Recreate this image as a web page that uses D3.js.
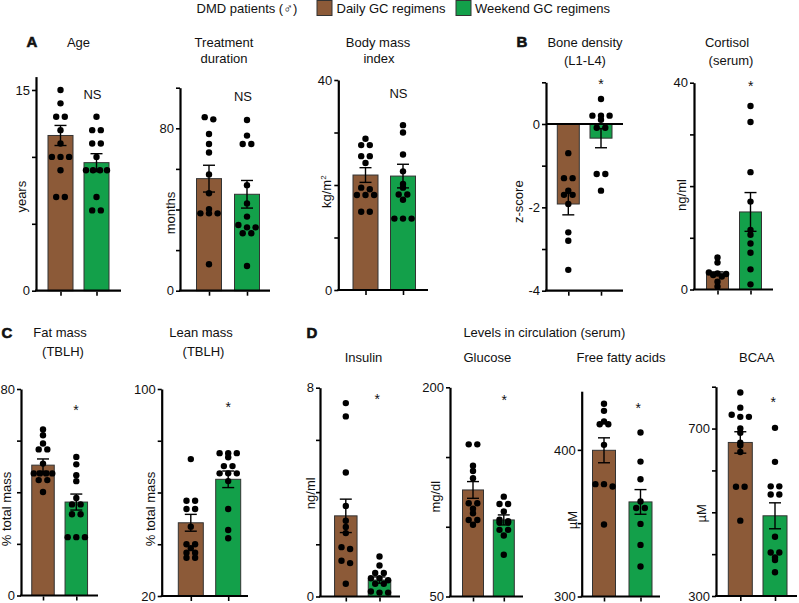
<!DOCTYPE html>
<html><head><meta charset="utf-8">
<script src="https://cdn.jsdelivr.net/npm/d3@7"></script>
<style>
body{margin:0;background:#fff}
svg{display:block}
text{font-family:"Liberation Sans", Arial, Helvetica, sans-serif; fill:#111}
</style>
</head><body>
<svg id="c" width="799" height="603"></svg>
<script>
// ---------- DATA ----------
const groups = ["Daily GC regimens", "Weekend GC regimens"];
const groupColors = ["#8c5a38", "#13a04a"];

const ageDaily   = [15, 14, 13, 13, 12, 11, 10, 10, 10, 9, 7, 7];
const ageWeekend = [13, 12, 12, 11, 11, 10, 9, 9, 9, 9, 7, 6, 6];
const ageMean = [11.6, 9.57], ageSem = [0.75, 0.67];

const treatDaily   = [85.5, 84.4, 77.2, 72.3, 68.1, 57.3, 48, 40.2, 38.1, 38.1, 38.1, 13];
const treatWeekend = [84.1, 76.4, 72.3, 72.3, 52, 43, 36.5, 32.4, 31.2, 31.2, 28.3, 28.3, 12.2];
const treatMean = [55.2, 47.5], treatSem = [6.6, 6.8];

const bmiDaily   = [28.8, 27.6, 27.6, 25.5, 25.5, 24.2, 19.5, 19.2, 18.1, 18.1, 18.1, 14.9, 14.9];
const bmiWeekend = [31.4, 30, 25.8, 22.6, 20.2, 19.5, 18.2, 18.2, 17.2, 13.6, 13.6, 13.6];
const bmiMean = [21.9, 21.7], bmiSem = [1.4, 2.25];

const boneDaily   = [-0.7, -1.3, -1.3, -1.6, -1.7, -1.7, -1.92, -2.6, -2.8, -3.5];
const boneWeekend = [0.6, 0.2, 0.2, 0.2, 0.1, -0.09, -0.09, -1.2, -1.2, -1.6];
const boneMean = [-1.92, -0.34], boneSem = [0.26, 0.23];

const cortDaily   = [6.2, 5.2, 3.3, 3.1, 3.0, 2.8, 2.5, 1.5, 0.6];
const cortWeekend = [35.5, 32.4, 22.7, 17, 11.5, 10.6, 8.9, 7.1, 3.9, 1.0];
const cortMean = [3.1, 15.0], cortSem = [0.3, 3.75];

const fatDaily   = [64.3, 62.1, 58.9, 56.6, 56.6, 51.1, 47.3, 47.3, 47.3, 47.3, 44.7, 44.7, 40.1];
const fatWeekend = [53.7, 50.8, 46.6, 44.3, 37.8, 35.3, 35.3, 31.5, 31.5, 22.6, 22.6, 22.6];
const fatMean = [50.5, 36.2], fatSem = [2.4, 3.1];

const leanDaily   = [72.9, 56.8, 56.8, 53.6, 53.6, 46.8, 40, 40, 38.5, 36.7, 36.7, 34.8, 34.8];
const leanWeekend = [75.2, 75.2, 75.2, 73.6, 70.2, 70.2, 67.4, 67.4, 67.4, 64.4, 53.6, 45.5, 42.3];
const leanMean = [48.3, 65.1], leanSem = [3.25, 3.2];

const insDaily   = [7.41, 6.9, 4.75, 3.47, 2.9, 2.66, 2.43, 1.89, 1.82, 1.37, 1.28, 0.49];
const insWeekend = [1.53, 1.19, 0.9, 0.9, 0.7, 0.7, 0.62, 0.49, 0.49, 0.19, 0.15, 0.15];
const insMean = [3.09, 0.63], insSem = [0.64, 0.12];

const gluDaily   = [159.1, 159.1, 143.8, 140, 134.8, 116.9, 116.9, 113, 109.7, 104.9, 104.9, 101.4];
const gluWeekend = [121.6, 116.3, 116.3, 110.9, 105, 104, 103, 103, 97.8, 97.8, 93.7, 79.9];
const gluMean = [126.4, 104.9], gluSem = [6.0, 3.6];

const ffaDaily   = [431.4, 426.6, 419.3, 417.5, 417.5, 403.4, 376.6, 376.6, 375, 349.1];
const ffaWeekend = [411.8, 392, 380, 364.8, 360.3, 360.3, 349.5, 335.2, 320.5];
const ffaMean = [399.7, 364.5], ffaSem = [8.5, 8.4];

const bcaaDaily   = [786, 750, 733, 728, 728, 700, 690, 666, 660, 644, 561, 561, 480];
const bcaaWeekend = [701.7, 620.5, 562, 562, 542.6, 542.6, 441.5, 404, 404, 392, 385.9, 356.6];
const bcaaMean = [666.8, 491.6], bcaaSem = [25.6, 31];

// tick values and labels
const ageTicks = [0, 5, 10, 15], ageLabels = [0, 15];
const treatTicks = [0, 20, 40, 60, 80, 100], treatLabels = [0, 80];
const bmiTicks = [0, 10, 20, 30, 40], bmiLabels = [0, 40];
const boneTicks = [-4, -3, -2, -1, 0, 1], boneLabels = [-4, -2, 0];
const cortTicks = [0, 10, 20, 30, 40], cortLabels = [0, 40];
const fatTicks = [0, 20, 40, 60, 80], fatLabels = [0, 80];
const leanTicks = [20, 40, 60, 80, 100], leanLabels = [20, 100];
const insTicks = [0, 2, 4, 6, 8], insLabels = [0, 8];
const gluTicks = [50, 100, 150, 200], gluLabels = [50, 200];
const ffaTicks = [300, 350, 400], ffaLabels = [300, 400];
const bcaaTicks = [300, 400, 500, 600, 700, 800], bcaaLabels = [300, 700];

// ---------- LAYOUT ----------
const panels = [
  {d: ageDaily, w: ageWeekend, m: ageMean, s: ageSem, dom: [0, 16], rng: [290.7, 76.6], ax: 36, end: 121, cx: [60.5, 96.5], bw: 25,
   ticks: ageTicks, labels: ageLabels, yl: "years", ylp: [21.7, 196.7], mark: "NS", mp: [92.5, 99.3]},
  {d: treatDaily, w: treatWeekend, m: treatMean, s: treatSem, dom: [0, 100], rng: [290.7, 87.7], ax: 180, end: 270, cx: [209, 247], bw: 25,
   ticks: treatTicks, labels: treatLabels, yl: "months", ylp: [170, 213], mark: "NS", mp: [243, 101]},
  {d: bmiDaily, w: bmiWeekend, m: bmiMean, s: bmiSem, dom: [0, 40], rng: [290, 80], ax: 338.3, end: 428, cx: [365.5, 403], bw: 25,
   ticks: bmiTicks, labels: bmiLabels, yl: "kg/m", sup: "2", ylp: [326.7, 191.7], mark: "NS", mp: [398.5, 97.7]},
  {d: boneDaily, w: boneWeekend, m: boneMean, s: boneSem, dom: [-4, 1], rng: [290.7, 82.3], ax: 546, end: 623, cx: [568.3, 601], bw: 22,
   ticks: boneTicks, labels: boneLabels, yl: "z-score", ylp: [518.3, 201.7], mark: "*", mp: [601, 89], base: 0, zero: true},
  {d: cortDaily, w: cortWeekend, m: cortMean, s: cortSem, dom: [0, 40], rng: [289.5, 82.7], ax: 694, end: 773, cx: [717.5, 750.5], bw: 22,
   ticks: cortTicks, labels: cortLabels, yl: "ng/ml", ylp: [681, 195], mark: "*", mp: [750.7, 91]},
  {d: fatDaily, w: fatWeekend, m: fatMean, s: fatSem, dom: [0, 80], rng: [595.5, 389], ax: 21, end: 98, cx: [43, 76.3], bw: 22.5,
   ticks: fatTicks, labels: fatLabels, yl: "% total mass", ylp: [6.5, 509], mark: "*", mp: [76, 415]},
  {d: leanDaily, w: leanWeekend, m: leanMean, s: leanSem, dom: [20, 100], rng: [596, 389], ax: 161.7, end: 248, cx: [190.8, 228.2], bw: 25,
   ticks: leanTicks, labels: leanLabels, yl: "% total mass", ylp: [150.3, 509], mark: "*", mp: [228.3, 412]},
  {d: insDaily, w: insWeekend, m: insMean, s: insSem, dom: [0, 8], rng: [596.5, 387.7], ax: 320, end: 400, cx: [345.8, 379.5], bw: 22.5,
   ticks: insTicks, labels: insLabels, yl: "ng/ml", ylp: [310, 493.3], mark: "*", mp: [377.3, 403.7]},
  {d: gluDaily, w: gluWeekend, m: gluMean, s: gluSem, dom: [50, 200], rng: [596.5, 387.3], ax: 450, end: 523, cx: [473, 503.8], bw: 21,
   ticks: gluTicks, labels: gluLabels, yl: "mg/dl", ylp: [435, 496.7], mark: "*", mp: [504.3, 404.7]},
  {d: ffaDaily, w: ffaWeekend, m: ffaMean, s: ffaSem, dom: [300, 440], rng: [596.5, 391.2], ax: 581.7, end: 660, cx: [604, 640.5], bw: 23,
   ticks: ffaTicks, labels: ffaLabels, yl: "\u00b5M", ylp: [572.3, 520], mark: "*", mp: [638.3, 412.7]},
  {d: bcaaDaily, w: bcaaWeekend, m: bcaaMean, s: bcaaSem, dom: [300, 800], rng: [596, 386.7], ax: 716, end: 797, cx: [740.3, 775], bw: 24,
   ticks: bcaaTicks, labels: bcaaLabels, yl: "\u00b5M", ylp: [701.7, 513.3], mark: "*", mp: [773.3, 407]}
];

const svg = d3.select("#c");

function swarm(values, y, cx, bw) {
  const pts = values.map(v => ({v, y: y(v)})).sort((a, b) => a.y - b.y);
  const rows = [];
  pts.forEach(p => {
    const r = rows[rows.length - 1];
    if (r && Math.abs(p.y - r[0].y) < 2.5) r.push(p); else rows.push([p]);
  });
  const out = [];
  rows.forEach(r => {
    const n = r.length;
    const sp = n > 1 ? Math.min(8.6, (bw - 4) / (n - 1)) : 0;
    r.forEach((p, i) => out.push({x: cx + (i - (n - 1) / 2) * sp, y: p.y}));
  });
  return out;
}

panels.forEach(p => {
  const g = svg.append("g");
  const y = d3.scaleLinear().domain(p.dom).range(p.rng);
  const x = d3.scalePoint().domain([0, 1]).range(p.cx);
  const base = p.base !== undefined ? p.base : p.dom[0];

  // bars
  [0, 1].forEach(i => {
    const y1 = y(p.m[i]), y0 = y(base);
    g.append("rect")
      .attr("x", x(i) - p.bw / 2).attr("width", p.bw)
      .attr("y", Math.min(y0, y1)).attr("height", Math.abs(y0 - y1))
      .attr("fill", groupColors[i]).attr("stroke", "#333").attr("stroke-width", 1);
  });

  // y axis
  const ya = g.append("g").attr("transform", `translate(${p.ax},0)`)
    .call(d3.axisLeft(y).tickValues(p.ticks).tickSize(4).tickSizeOuter(0).tickPadding(2)
      .tickFormat(d => p.labels.includes(d) ? String(d) : ""));
  ya.select(".domain").attr("stroke", "#000").attr("stroke-width", 2.2);
  ya.selectAll(".tick line").attr("stroke", "#000").attr("stroke-width", 1.6);
  ya.selectAll(".tick text").attr("font-size", 13).attr("font-family", '"Liberation Sans", Arial, sans-serif').attr("fill", "#111");

  // x axis baseline
  g.append("line").attr("x1", p.ax - 1).attr("x2", p.end)
    .attr("y1", y(p.dom[0])).attr("y2", y(p.dom[0]))
    .attr("stroke", "#000").attr("stroke-width", 2.2);
  const xa = g.append("g").attr("transform", `translate(0,${y(p.dom[0]) + 1})`)
    .call(d3.axisBottom(x).tickSize(4).tickFormat(() => ""));
  xa.select(".domain").remove();
  xa.selectAll(".tick line").attr("stroke", "#000").attr("stroke-width", 1.6);

  if (p.zero) {
    g.append("line").attr("x1", p.ax).attr("x2", p.end)
      .attr("y1", y(0)).attr("y2", y(0)).attr("stroke", "#000").attr("stroke-width", 2.2);
  }

  // dots
  [[p.d, 0], [p.w, 1]].forEach(([vals, i]) => {
    g.selectAll(null).data(swarm(vals, y, x(i), p.bw)).enter().append("circle")
      .attr("cx", d => d.x).attr("cy", d => d.y).attr("r", 3.2).attr("fill", "#000");
  });

  // error bars
  [0, 1].forEach(i => {
    const lo = y(p.m[i] - p.s[i]), hi = y(p.m[i] + p.s[i]), cx = x(i);
    g.append("line").attr("x1", cx).attr("x2", cx).attr("y1", lo).attr("y2", hi).attr("stroke", "#000").attr("stroke-width", 1.4);
    [lo, hi].forEach(v => g.append("line").attr("x1", cx - 6).attr("x2", cx + 6).attr("y1", v).attr("y2", v)
      .attr("stroke", "#000").attr("stroke-width", 1.4));
  });

  // y label
  const t = g.append("text").attr("transform", `translate(${p.ylp[0]},${p.ylp[1]}) rotate(-90)`)
    .attr("text-anchor", "middle").attr("dy", "0.35em").attr("font-size", 13).text(p.yl);
  if (p.sup) t.append("tspan").attr("font-size", 8).attr("dy", "-0.6em").text(p.sup);

  // significance mark
  g.append("text").attr("x", p.mp[0]).attr("y", p.mp[1]).attr("text-anchor", "middle")
    .attr("font-size", p.mark === "NS" ? 13 : 14).attr("fill", "#000").text(p.mark);
});

// ---------- TITLES ----------
const titles = [
  ["Age", 78.5, 46.7], ["Treatment", 224, 46.7], ["duration", 224, 62.5],
  ["Body mass", 378, 46.7], ["index", 379, 62.5],
  ["Bone density", 585, 46.7], ["(L1-L4)", 585, 64.5],
  ["Cortisol", 727, 46.7], ["(serum)", 731, 64.5],
  ["Fat mass", 60, 337], ["(TBLH)", 63, 355.7],
  ["Lean mass", 201, 337], ["(TBLH)", 203.5, 355.7],
  ["Levels in circulation (serum)", 544.3, 336.7],
  ["Insulin", 363.5, 362.3], ["Glucose", 487.3, 362.3],
  ["Free fatty acids", 621, 362.3], ["BCAA", 756.7, 362.3]
];
svg.selectAll(null).data(titles).enter().append("text")
  .attr("x", d => d[1]).attr("y", d => d[2]).attr("text-anchor", "middle")
  .attr("font-size", 13).text(d => d[0]);

const letters = [["A", 26.5, 47], ["B", 516.5, 47], ["C", 1.5, 337.5], ["D", 306.5, 337.5]];
svg.selectAll(null).data(letters).enter().append("text")
  .attr("x", d => d[1]).attr("y", d => d[2]).attr("font-size", 15).attr("font-weight", "bold")
  .attr("stroke", "#111").attr("stroke-width", 0.6).text(d => d[0]);

// ---------- LEGEND ----------
svg.append("text").attr("x", 196.5).attr("y", 12.5).attr("font-size", 13).attr("fill", "#333")
  .text("DMD patients (\u2642)");
const legX = [317, 456], legTX = [336.5, 475];
groups.forEach((name, i) => {
  svg.append("rect").attr("x", legX[i]).attr("y", 0.5).attr("width", 15).attr("height", 15)
    .attr("fill", groupColors[i]).attr("stroke", "#333").attr("stroke-width", 1);
  svg.append("text").attr("x", legTX[i]).attr("y", 12.5).attr("font-size", 13).text(name);
});
</script>
</body></html>
